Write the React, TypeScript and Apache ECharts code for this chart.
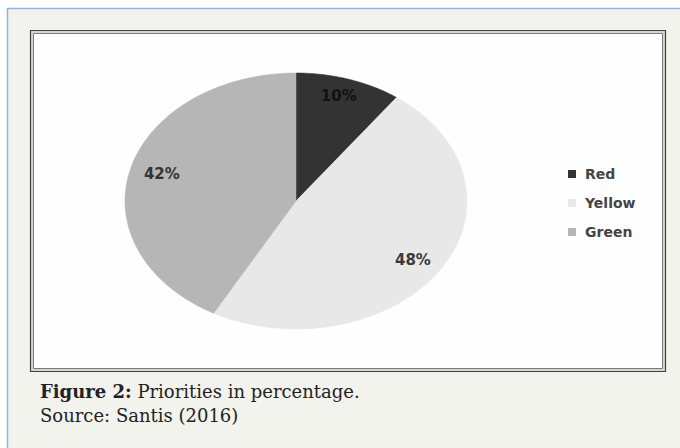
import React, { useEffect, useRef } from "react";
import * as echarts from "echarts";

const categories = ["Red", "Yellow", "Green"];
const values = [10, 48, 42];
const sliceColors = ["#333333", "#e8e8e8", "#b6b6b6"];
const labelColors = ["#111111", "#3a3a3a", "#333333"];
const captionTitle = "Figure 2:";
const captionText = " Priorities in percentage.";
const sourceText = "Source: Santis (2016)";

const CX = 296;
const CY = 201;
const RX = 171;
const RY = 128;
const LABEL_RX = 0.81;
const LABEL_RY = 0.86;

export default function App() {
  const ref = useRef<HTMLDivElement>(null);
  useEffect(() => {
    if (!ref.current) return;
    const chart = echarts.init(ref.current, null, { renderer: "svg" });
    const total = values.reduce((a, b) => a + b, 0);
    const starts: number[] = [];
    let acc = 0;
    values.forEach((v) => {
      starts.push(acc);
      acc += v;
    });

    const series = categories.map((name, i) => ({
      type: "custom",
      name,
      coordinateSystem: "none",
      silent: true,
      itemStyle: { color: sliceColors[i] },
      data: [values[i]],
      renderItem: (params: any, api: any) => {
        const a0 = (starts[i] / total) * Math.PI * 2;
        const a1 = ((starts[i] + values[i]) / total) * Math.PI * 2;
        const pts: number[][] = [[CX, CY]];
        const steps = Math.max(8, Math.ceil((a1 - a0) / 0.02));
        for (let k = 0; k <= steps; k++) {
          const a = a0 + ((a1 - a0) * k) / steps;
          pts.push([CX + RX * Math.sin(a), CY - RY * Math.cos(a)]);
        }
        const am = (a0 + a1) / 2;
        const pct = Math.round((values[i] / total) * 100) + "%";
        return {
          type: "group",
          children: [
            {
              type: "polygon",
              shape: { points: pts },
              style: { fill: sliceColors[i], stroke: sliceColors[i], lineWidth: 0.5 },
            },
            {
              type: "text",
              x: CX + LABEL_RX * RX * Math.sin(am),
              y: CY - LABEL_RY * RY * Math.cos(am),
              style: {
                text: pct,
                fill: labelColors[i],
                font: "bold 15px 'DejaVu Sans'",
                align: "center",
                verticalAlign: "middle",
              },
            },
          ],
        };
      },
    }));

    chart.setOption({
      animation: false,
      legend: {
        data: categories,
        orient: "vertical",
        left: 563,
        top: 161,
        icon: "rect",
        itemWidth: 8,
        itemHeight: 8,
        itemGap: 13,
        selectedMode: false,
        textStyle: {
          fontFamily: "DejaVu Sans",
          fontWeight: "bold",
          fontSize: 14,
          lineHeight: 16,
          color: "#444444",
          padding: [0, 0, 0, 4],
        },
      },
      graphic: [
        {
          type: "rect",
          z: 0,
          shape: { x: 7.5, y: 8.5, width: 700, height: 500 },
          style: { fill: "#f3f3ee", stroke: "#93b4e0", lineWidth: 1.5 },
        },
        {
          type: "rect",
          z: 0,
          shape: { x: 30.5, y: 30.5, width: 635, height: 341 },
          style: { fill: "#d6d6d6", stroke: "#444444", lineWidth: 1.2 },
        },
        {
          type: "rect",
          z: 0,
          shape: { x: 33.5, y: 33.5, width: 629, height: 335 },
          style: { fill: "#fefefe", stroke: "#7a7a7a", lineWidth: 1 },
        },
        {
          type: "text",
          z: 0,
          x: 40,
          y: 391,
          style: {
            text: "{b|" + captionTitle + "}" + captionText,
            fill: "#222222",
            font: "18px 'DejaVu Serif'",
            verticalAlign: "middle",
            rich: {
              b: { fontWeight: "bold", fontFamily: "DejaVu Serif", fontSize: 18, fill: "#222222" },
            },
          },
        },
        {
          type: "text",
          z: 0,
          x: 40,
          y: 415,
          style: {
            text: sourceText,
            fill: "#222222",
            font: "18px 'DejaVu Serif'",
            verticalAlign: "middle",
          },
        },
      ],
      series,
    });
    return () => chart.dispose();
  }, []);
  return (
    <div
      ref={ref}
      style={{ position: "fixed", left: 0, top: 0, width: 680, height: 448, background: "#ffffff" }}
    />
  );
}
